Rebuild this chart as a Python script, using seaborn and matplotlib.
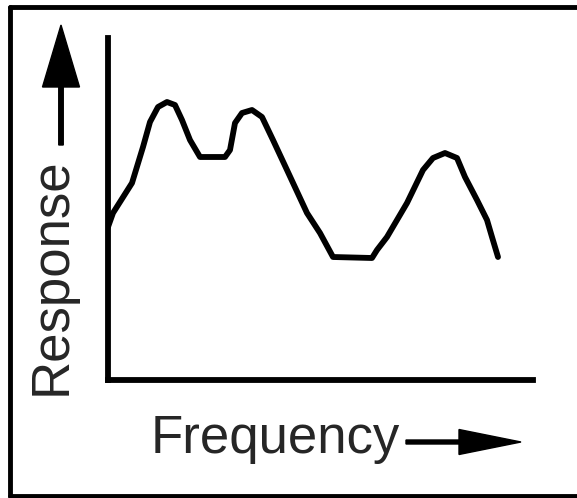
import matplotlib
matplotlib.use('Agg')
import matplotlib.pyplot as plt
import seaborn as sns
import pandas as pd
from matplotlib.patches import FancyArrow
from matplotlib.lines import Line2D

# curve (arbitrary units)
frequency = [0, 5, 24, 35, 42, 50, 59, 67, 74, 82, 92, 117, 122, 127, 134, 144,
             154, 165, 179, 199, 212, 225, 264, 269, 279, 299, 315, 325, 337,
             349, 357, 369, 379, 384, 390]
response = [153, 167, 197, 233, 258, 273, 278, 275, 260, 240, 223, 223, 230,
            257, 267, 270, 263, 240, 210, 167, 147, 123, 122, 130, 143, 177,
            210, 222, 227, 222, 203, 180, 160, 143, 123]

data = pd.DataFrame({'Frequency': frequency, 'Response': response})

sns.set_style('white')
plt.rcParams['font.family'] = ['Liberation Sans', 'DejaVu Sans']

W, H = 577, 498
fig = plt.figure(figsize=(W / 100, H / 100), dpi=100)
ax = fig.add_axes([108 / W, (H - 380) / H, (533 - 108) / W, (380 - 38) / H])

sns.lineplot(data=data, x='Frequency', y='Response', sort=False, ax=ax,
             color='black', linewidth=4.2, solid_joinstyle='round',
             solid_capstyle='round')
ax.set_xlim(0, 425)
ax.set_ylim(0, 342)
ax.set_xticks([])
ax.set_yticks([])
ax.set_xlabel('')
ax.set_ylabel('')
for side in ['top', 'right']:
    ax.spines[side].set_visible(False)
for side in ['left', 'bottom']:
    ax.spines[side].set_color('black')
    ax.spines[side].set_linewidth(4.2)

# axis captions with arrows
fig.text(52 / W, 1 - 276 / H, 'Response', rotation=90, ha='center',
         va='center', fontsize=38)
fig.text(151 / W, 1 - 453 / H, 'Frequency', ha='left', va='baseline',
         fontsize=38)

px = fig.dpi_scale_trans
fig.add_artist(FancyArrow(0.61, (H - 145) / 100, 0, 1.20, width=0.045,
                          head_width=0.37, head_length=0.62,
                          length_includes_head=True, color='black',
                          transform=px))
fig.add_artist(FancyArrow(4.06, (H - 442) / 100, 1.15, 0, width=0.04,
                          head_width=0.25, head_length=0.62,
                          length_includes_head=True, color='black',
                          transform=px))

# frame around the drawing (right side runs off the image)
for xs, ys in [([0.10, 0.10], [0.02, 4.91]),
               ([0.10, 5.80], [4.91, 4.91]),
               ([0.10, 5.80], [0.02, 0.02])]:
    fig.add_artist(Line2D(xs, ys, color='black', linewidth=3.5,
                          transform=px))

plt.savefig('out.png', dpi=100)
